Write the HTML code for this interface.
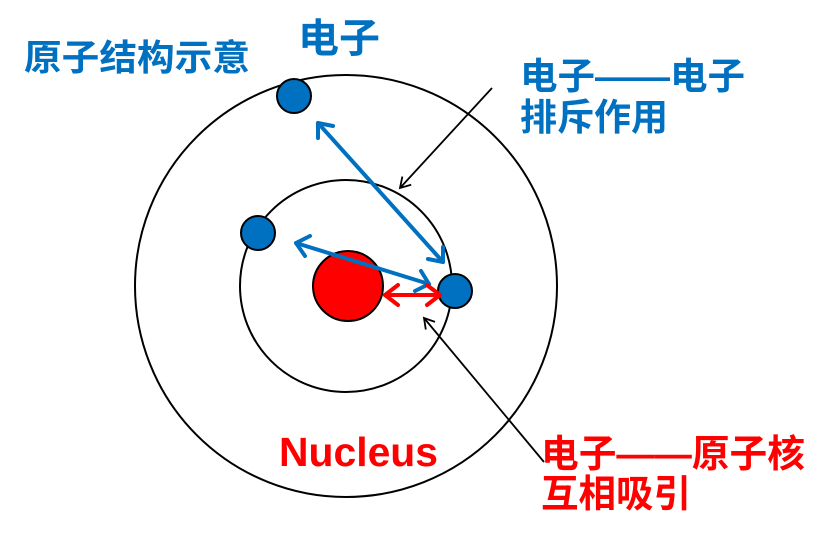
<!DOCTYPE html>
<html><head><meta charset="utf-8"><style>
html,body{margin:0;padding:0;background:#fff;}
svg{display:block;}
text{font-family:"Liberation Sans","Noto Sans CJK SC",sans-serif;font-weight:bold;}
</style></head><body>
<svg width="830" height="537" viewBox="0 0 830 537" xmlns="http://www.w3.org/2000/svg">
<defs>
<marker id="bk" markerWidth="14" markerHeight="14" refX="11" refY="7" orient="auto" markerUnits="userSpaceOnUse">
<path d="M1,1 L11,7 L1,13" fill="none" stroke="#000" stroke-width="1.8"/>
</marker>
</defs>
<circle cx="346" cy="286" r="211" fill="none" stroke="#000" stroke-width="2"/>
<circle cx="346" cy="286" r="106" fill="none" stroke="#000" stroke-width="2"/>
<circle cx="348" cy="286" r="35" fill="#f00" stroke="#000" stroke-width="2"/>
<circle cx="294" cy="96" r="17" fill="#0070C0" stroke="#000" stroke-width="2"/>
<circle cx="258" cy="233" r="17" fill="#0070C0" stroke="#000" stroke-width="2"/>
<circle cx="455" cy="291" r="17" fill="#0070C0" stroke="#000" stroke-width="2"/>
<g stroke="#0070C0" stroke-width="4" fill="none" stroke-linecap="round" stroke-linejoin="round">
<line x1="318" y1="123" x2="443" y2="262"/>
<path d="M318,138 L318,123 L333,126"/>
<path d="M443,247 L443,262 L428,259"/>
<line x1="296" y1="243" x2="429" y2="284"/>
<path d="M310,236 L296,243 L305,256"/>
<path d="M415,291 L429,284 L421,271"/>
</g>
<g stroke="#f00" stroke-width="4" fill="none" stroke-linecap="round" stroke-linejoin="round">
<line x1="385" y1="295" x2="440" y2="295"/>
<path d="M398,285 L385,295 L398,305"/>
<path d="M427,285 L440,295 L427,305"/>
</g>
<line x1="492" y1="88" x2="400" y2="188" stroke="#000" stroke-width="1.8" marker-end="url(#bk)"/>
<line x1="544" y1="462" x2="424" y2="318" stroke="#000" stroke-width="1.8" marker-end="url(#bk)"/>
<text x="24" y="70" font-size="36" fill="#0070C0" textLength="226" lengthAdjust="spacingAndGlyphs">原子结构示意</text>
<text x="298" y="52" font-size="40" fill="#0070C0" textLength="82" lengthAdjust="spacingAndGlyphs">电子</text>
<text x="520" y="89" font-size="37" fill="#0070C0" textLength="225" lengthAdjust="spacingAndGlyphs">电子——电子</text>
<text x="520" y="130" font-size="37" fill="#0070C0" textLength="148" lengthAdjust="spacingAndGlyphs">排斥作用</text>
<text x="279" y="466" font-size="41" fill="#f00" textLength="159" lengthAdjust="spacingAndGlyphs">Nucleus</text>
<text x="541" y="467" font-size="38" fill="#f00" textLength="264" lengthAdjust="spacingAndGlyphs">电子——原子核</text>
<text x="541" y="507" font-size="38" fill="#f00" textLength="150" lengthAdjust="spacingAndGlyphs">互相吸引</text>
</svg>
</body></html>
